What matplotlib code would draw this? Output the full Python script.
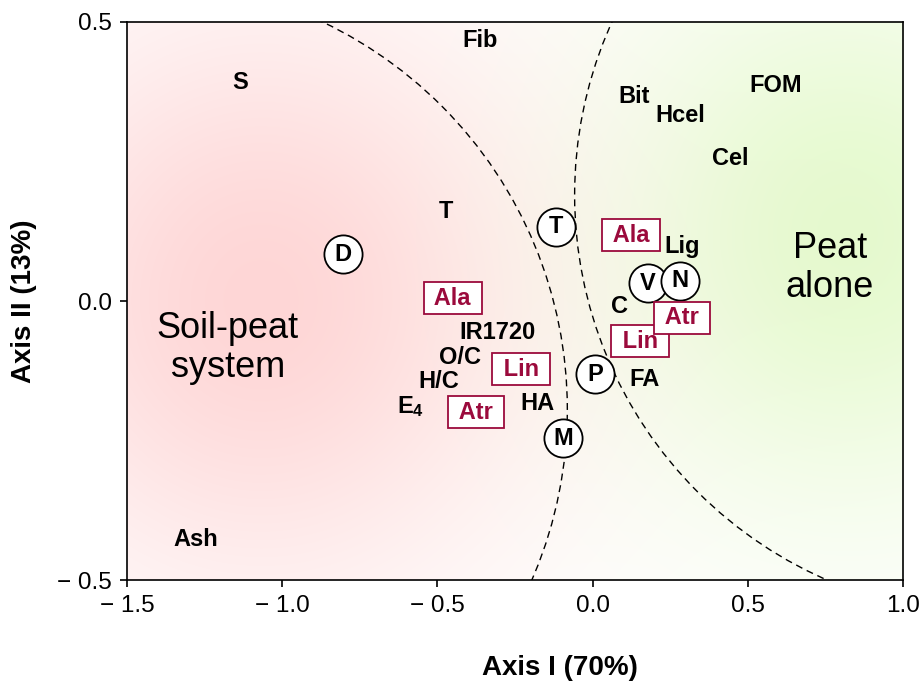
import numpy as np
import matplotlib
matplotlib.use('Agg')
import matplotlib.pyplot as plt
from matplotlib.patches import Ellipse

plt.rcParams['font.family'] = 'Liberation Sans'
plt.rcParams['mathtext.fontset'] = 'custom'
plt.rcParams['mathtext.rm'] = 'Liberation Sans'
plt.rcParams['mathtext.bf'] = 'Liberation Sans:bold'

# =======================================
# Data (ordination scores)
# =======================================

var_names = ['S', 'Fib', 'Bit', 'Hcel', 'FOM', 'Cel', 'T', 'Lig', 'C', 'IR1720',
             'O/C', 'H/C', r'$\mathbf{E_4}$', 'HA', 'FA', 'Ash']
var_x = [-1.136, -0.363, 0.133, 0.282, 0.591, 0.443, -0.472, 0.288, 0.085, -0.305,
         -0.427, -0.495, -0.588, -0.179, 0.166, -1.278]
var_y = [0.391, 0.466, 0.367, 0.333, 0.387, 0.256, 0.161, 0.097, -0.009, -0.056,
         -0.102, -0.145, -0.190, -0.183, -0.140, -0.427]

site_names = ['D', 'T', 'V', 'N', 'P', 'M']
site_x = [-0.804, -0.118, 0.178, 0.282, 0.008, -0.095]
site_y = [0.084, 0.133, 0.032, 0.036, -0.131, -0.246]

herb_names = ['Ala', 'Ala', 'Lin', 'Atr', 'Lin', 'Atr']
herb_x = [0.124, -0.450, 0.153, 0.288, -0.231, -0.376]
herb_y = [0.118, 0.005, -0.072, -0.030, -0.122, -0.199]

group_names = ['Soil-peat\nsystem', 'Peat\nalone']
group_x = [-1.175, 0.765]
group_y = [-0.084, 0.059]

xticks = [-1.5, -1.0, -0.5, 0.0, 0.5, 1.0]
xticklabels = ['\u2212 1.5', '\u2212 1.0', '\u2212 0.5', '0.0', '0.5', '1.0']
yticks = [-0.5, 0.0, 0.5]
yticklabels = ['\u2212 0.5', '0.0', '0.5']

DARKRED = '#9b0a3c'

# =======================================
# Figure
# =======================================

fig = plt.figure(figsize=(9.21, 6.81), dpi=100)
ax = fig.add_axes([0.1379, 0.1483, 0.8426, 0.8194])
ax.set_xlim(-1.5, 1.0)
ax.set_ylim(-0.5, 0.5)

# --- background glow (pink left, green right)
gx, gy = np.meshgrid(np.linspace(-1.5, 1.0, 500), np.linspace(-0.5, 0.5, 300))
w_pink = np.exp(-((gx + 1.07) / 0.60) ** 2 / 2 - ((gy - 0.0) / 0.36) ** 2 / 2)
w_green = np.exp(-((gx - 0.83) / 0.55) ** 2 / 2 - ((gy - 0.12) / 0.34) ** 2 / 2)
img = np.ones(gx.shape + (3,))
img[..., 1] -= 0.16 * w_pink
img[..., 2] -= 0.16 * w_pink
img[..., 0] -= 0.10 * w_green
img[..., 1] -= 0.02 * w_green
img[..., 2] -= 0.19 * w_green
ax.imshow(np.clip(img, 0, 1), extent=[-1.5, 1.0, -0.5, 0.5], origin='lower',
          aspect='auto', zorder=0, interpolation='bilinear')

# --- dashed group boundaries
for (cx, cy, w, h) in [(-1.463, -0.194, 2.763, 1.537), (1.295, 0.190, 2.706, 1.505)]:
    ax.add_patch(Ellipse((cx, cy), w, h, fill=False, ls=(0, (5, 3.5)), lw=1.0,
                         color='black', zorder=1))

# --- variables
for name, x, y in zip(var_names, var_x, var_y):
    ax.text(x, y, name, fontsize=17, fontweight='bold', ha='center', va='center', zorder=3)

# --- sites (circled)
for i, (name, x, y) in enumerate(zip(site_names, site_x, site_y)):
    ax.plot(x, y, 'o', ms=27.5, mfc='white', mec='black', mew=1.3, zorder=4 + i * 0.1)
    ax.text(x, y, name, fontsize=17, fontweight='bold', ha='center', va='center',
            zorder=4.05 + i * 0.1)

# --- herbicides (boxed)
for i, (name, x, y) in enumerate(zip(herb_names, herb_x, herb_y)):
    ax.text(x, y, ' ' + name + ' ', fontsize=17, fontweight='bold', color=DARKRED,
            ha='center', va='center', zorder=5 + i * 0.1,
            bbox=dict(boxstyle='square,pad=0.2', facecolor='white', edgecolor=DARKRED, lw=1.3))

# --- group labels
for name, x, y in zip(group_names, group_x, group_y):
    ax.text(x, y, name, fontsize=26, ha='center', va='center', linespacing=1.15, zorder=3)

ax.set_xticks(xticks, labels=xticklabels)
ax.set_yticks(yticks, labels=yticklabels)
ax.tick_params(direction='out', length=5, width=1.2, labelsize=17.5, pad=6)
for spine in ax.spines.values():
    spine.set_linewidth(1.2)

ax.set_xlabel('Axis I (70%)', fontsize=20, fontweight='bold')
ax.set_ylabel('Axis II (13%)', fontsize=20, fontweight='bold')
ax.xaxis.set_label_coords(0.558, -0.135)
ax.yaxis.set_label_coords(-0.116, 0.5)

fig.savefig('out.png', dpi=100)
